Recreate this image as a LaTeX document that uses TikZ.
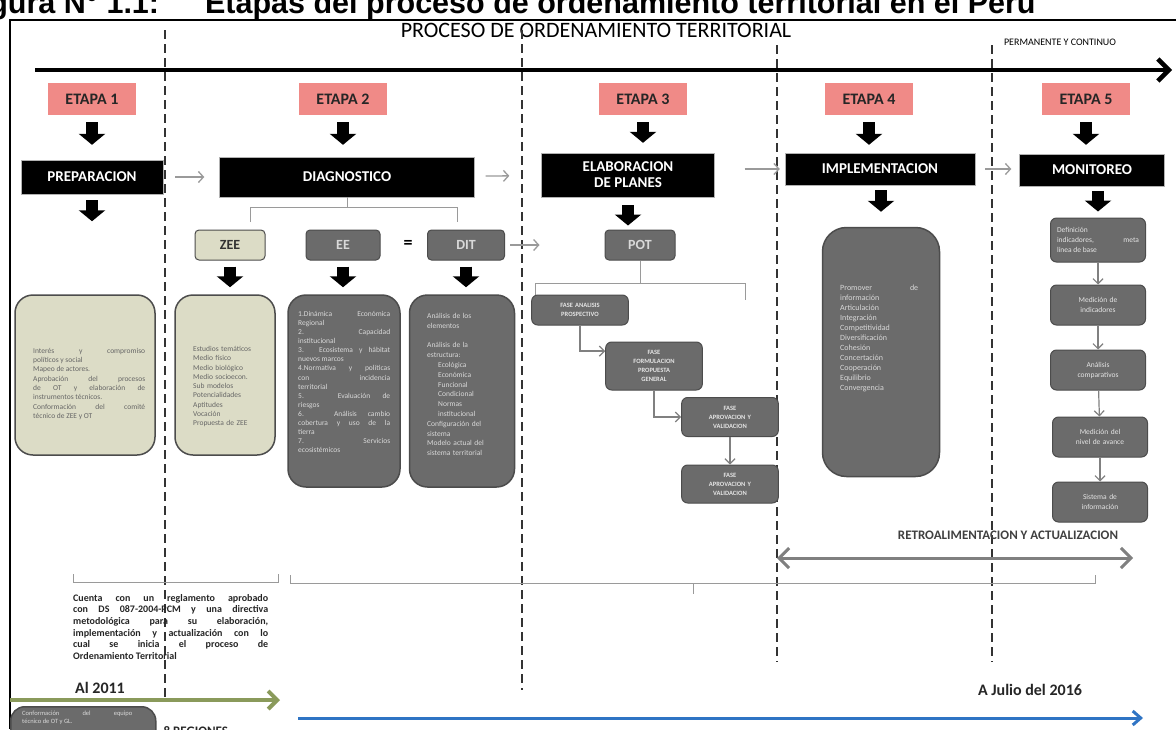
\documentclass[tikz,border=0pt]{standalone}
\usepackage{fontspec}
\setmainfont{Carlito}
\newfontfamily\captionfont{Liberation Sans}
\usepackage{tikz}
\usetikzlibrary{arrows.meta}

\definecolor{etapa_red}{HTML}{F08A87}
\definecolor{khaki}{HTML}{DCDCC6}
\definecolor{box_gray}{HTML}{6B6B6B}
\definecolor{line_gray}{HTML}{9A9A9A}
\definecolor{olive_green}{HTML}{8A9A5B}
\definecolor{blue_line}{HTML}{2F74C4}

\begin{document}
\begin{tikzpicture}[x=1pt, y=-1pt,
        etapa_style/.style={fill=etapa_red, minimum width=88pt, minimum height=32pt, inner sep=0pt, text=black!85, font=\fontsize{16}{18}\selectfont\bfseries},
        header_style/.style={fill=black, draw=gray!60, text=white, inner sep=0pt, align=center, font=\fontsize{15}{16}\selectfont\bfseries},
        small_box_style/.style={fill=box_gray, draw=black!70, line width=1pt, rounded corners=4pt, minimum width=74pt, minimum height=30pt, text=white!85!black, font=\fontsize{14}{16}\selectfont\bfseries},
        detail_style/.style={draw=black!70, line width=1.5pt, rounded corners=18pt, inner sep=0pt},
        box_text/.style={anchor=north west, inner sep=0pt, font=\fontsize{7.5}{9.3}\selectfont},
        fase_style/.style={fill=box_gray, draw=black!70, line width=1pt, rounded corners=6pt, minimum width=96pt, text width=90pt, align=center, text=white!90!black, font=\fontsize{6.5}{9}\selectfont\bfseries},
        mon_style/.style={fill=box_gray, draw=black!70, line width=1pt, rounded corners=6pt, minimum width=95pt, minimum height=40pt, text width=82pt, align=center, text=white!90!black, font=\fontsize{7.5}{10}\selectfont},
        down_arrow/.style={line width=12pt, -{Triangle[length=11pt,width=26pt]}},
        flow_arrow/.style={draw=line_gray, line width=1.3pt, -{Straight Barb[length=5pt,width=11pt]}},
        link_arrow/.style={draw=gray, line width=1.2pt, -{Straight Barb[length=5pt,width=10pt]}},
        bracket_style/.style={draw=line_gray, line width=1pt},
        stage_line/.style={draw=black!80, line width=1.5pt, dash pattern=on 9pt off 5pt},
        time_arrow/.style={line width=4.5pt, -{Straight Barb[length=11pt,width=22pt]}},
        retro_arrow/.style={draw=gray, line width=3pt, {Straight Barb[length=10pt,width=20pt]}-{Straight Barb[length=10pt,width=20pt]}}]

        \fill [white] (0,0) rectangle (1176,729);
        \useasboundingbox (0,0) rectangle (1176,729);
        \clip (0,0) rectangle (1176,729);

        \node [anchor=base west, inner sep=0pt, font=\captionfont\fontsize{30.5}{32}\selectfont\bfseries] (caption) at (-38,13) {Figura N° 1.1:\hspace{46pt}Etapas del proceso de ordenamiento territorial en el Perú};

        \draw [line width=2pt] (10,729) -- (10,20) -- (1176,20);

        \node [font=\fontsize{22}{26}\selectfont] (title) at (596,30) {PROCESO DE ORDENAMIENTO TERRITORIAL};

        \node [font=\fontsize{10}{12}\selectfont] (perm) at (1060,42) {PERMANENTE Y CONTINUO};

        \draw [stage_line] (165,30) -- (165,700);
        \draw [stage_line] (522,30) -- (522,690);
        \draw [stage_line] (777,45) -- (777,662);
        \draw [stage_line] (992,45) -- (992,662);

        \coordinate (t0) at (35,70);
        \coordinate (t1) at (1172,70);
        \draw [time_arrow] (t0) -- (t1);

        \node [etapa_style] (e1) at (92,99) {ETAPA 1};

        \node [etapa_style] (e2) at (343,99) {ETAPA 2};

        \node [etapa_style] (e3) at (643,99) {ETAPA 3};

        \node [etapa_style] (e4) at (869,99) {ETAPA 4};

        \node [etapa_style] (e5) at (1086,99) {ETAPA 5};

        \node [header_style, minimum width=142pt, minimum height=34pt] (h1) at (92,177) {PREPARACION};

        \node [header_style, minimum width=255pt, minimum height=40pt] (h2) at (347,177) {DIAGNOSTICO};

        \node [header_style, minimum width=173pt, minimum height=44pt] (h3) at (628,175) {ELABORACION\\DE PLANES};

        \node [header_style, minimum width=190pt, minimum height=32pt] (h4) at (880,169) {IMPLEMENTACION};

        \node [header_style, minimum width=145pt, minimum height=32pt] (h5) at (1092,170) {MONITOREO};

        \draw [down_arrow, shorten <=7pt, shorten >=15pt] (e1.south) -- (e1.south |- h1.north);
        \draw [down_arrow, shorten <=7pt, shorten >=12pt] (e2.south) -- (e2.south |- h2.north);
        \draw [down_arrow, shorten <=7pt, shorten >=10pt] (e3.south) -- (e3.south |- h3.north);
        \draw [down_arrow, shorten <=7pt, shorten >=8pt] (e4.south) -- (e4.south |- h4.north);
        \draw [down_arrow, shorten <=7pt, shorten >=9pt] (e5.south) -- (e5.south |- h5.north);

        \draw [flow_arrow, shorten <=12pt, shorten >=15pt] (h1) -- (h2);
        \draw [flow_arrow, shorten <=11pt, shorten >=32pt] (h2) -- (h3);
        \draw [flow_arrow, shorten <=30pt, shorten >=5pt] (h4.west -| h3.east) -- (h4.west);
        \draw [flow_arrow, shorten <=10pt, shorten >=8pt] (h4.east) -- (h4.east -| h5.west);

        \draw [bracket_style] (h2.south) -- (h2.south |- 0,207);
        \draw [bracket_style] (250,222) -- (250,207) -- (457,207) -- (457,222);

        \node [small_box_style, fill=khaki, text=black!80, minimum width=70pt] (zee) at (230,245) {ZEE};

        \node [small_box_style] (ee) at (343,245) {EE};

        \node [font=\fontsize{18}{18}\selectfont\bfseries] (eq) at (408,244) {=};

        \node [small_box_style, minimum width=77pt] (dit) at (466,245) {DIT};

        \node [small_box_style, minimum width=70pt] (pot) at (640,245) {POT};

        \draw [flow_arrow, shorten <=5pt, shorten >=65pt] (dit) -- (pot);

        \draw [bracket_style] (pot.south) -- (pot.south |- 0,283);
        \draw [bracket_style] (535,297) -- (535,283) -- (745,283) -- (745,300);

        \node [detail_style, fill=khaki, minimum width=140pt, minimum height=160pt] (b1) at (85,375) {};

        \node [detail_style, fill=khaki, minimum width=100pt, minimum height=160pt] (b2) at (225,375) {};

        \node [detail_style, fill=box_gray, minimum width=112pt, minimum height=192pt] (b3) at (344,391) {};

        \node [detail_style, fill=box_gray, minimum width=105pt, minimum height=192pt] (b4) at (462,391) {};

        \node [detail_style, fill=box_gray, rounded corners=24pt, minimum width=117pt, minimum height=249pt] (b5) at (881,352) {};

        \draw [down_arrow, shorten <=6pt, shorten >=73pt] (h1.south) -- (h1.south |- b1.north);
        \draw [down_arrow, shorten <=6pt, shorten >=7pt] (zee.south) -- (zee.south |- b2.north);
        \draw [down_arrow, shorten <=6pt, shorten >=7pt] (ee.south) -- (ee.south |- b3.north);
        \draw [down_arrow, shorten <=6pt, shorten >=7pt] (dit.south) -- (dit.south |- b4.north);
        \draw [down_arrow, shorten <=8pt, shorten >=4pt] (h3.south) -- (h3.south |- pot.north);
        \draw [down_arrow, shorten <=5pt, shorten >=15pt] (h4.south -| b5.north) -- (b5.north);

        \node [box_text, text width=112pt, align=justify, text=black!60] (tx1) at (33,348) {Interés y compromiso\linebreak políticos y social\\ Mapeo de actores.\\ Aprobación del procesos\linebreak de OT y elaboración de\linebreak instrumentos técnicos.\\ Conformación del comité\linebreak técnico de ZEE y OT};

        \node [box_text, text width=75pt, align=left, text=black!60] (tx2) at (193,346) {Estudios temáticos\\ Medio físico\\ Medio biológico\\ Medio socioecon.\\ Sub modelos\\ Potencialidades\\ Aptitudes\\ Vocación\\ Propuesta de ZEE};

        \node [box_text, text width=92pt, align=justify, text=white!85!black, font=\fontsize{7.5}{9.1}\selectfont] (tx3) at (298,311) {1.Dinámica Económica\linebreak Regional\\ 2. Capacidad\linebreak institucional\\ 3. Ecosistema y hábitat\linebreak nuevos marcos\\ 4.Normativa y políticas\linebreak con incidencia\linebreak territorial\\ 5. Evaluación de\linebreak riesgos\\ 6. Análisis cambio\linebreak cobertura y uso de la\linebreak tierra\\ 7. Servicios\linebreak ecosistémicos};

        \node [box_text, text width=80pt, align=left, text=white!85!black, font=\fontsize{7.5}{9.8}\selectfont] (tx4) at (427,313) {Análisis de los\\ elementos\\[9.8pt] Análisis de la\\ estructura:\\ \hspace*{11pt}Ecológica\\ \hspace*{11pt}Económica\\ \hspace*{11pt}Funcional\\ \hspace*{11pt}Condicional\\ \hspace*{11pt}Normas\\ \hspace*{11pt}institucional\\ Configuración del\\ sistema\\ Modelo actual del\\ sistema territorial};

        \node [box_text, text width=78pt, align=justify, text=white!85!black, font=\fontsize{8}{10}\selectfont] (tx5) at (840,285) {Promover de\linebreak información\\ Articulación\\ Integración\\ Competitividad\\ Diversificación\\ Cohesión\\ Concertación\\ Cooperación\\ Equilibrio\\ Convergencia};

        \node [fase_style, minimum height=30pt] (f1) at (580,310) {FASE ANALISIS\\PROSPECTIVO};

        \node [fase_style, minimum height=48pt] (f2) at (654,366) {FASE\\FORMULACION\\PROPUESTA\\GENERAL};

        \node [fase_style, minimum height=39pt] (f3) at (730,417) {FASE\\APROVACION Y\\VALIDACION};

        \node [fase_style, minimum height=38pt] (f4) at (730,484) {FASE\\APROVACION Y\\VALIDACION};

        \draw [link_arrow] (f1.south) |- (f2.163);
        \draw [link_arrow] (f2.south) |- (f3.west);
        \draw [link_arrow] (f3) -- (f4);

        \node [mon_style, minimum height=44pt, align=justify] (m1) at (1098,240) {Definición\\ indicadores, meta\linebreak línea de base};

        \node [mon_style] (m2) at (1098,305) {Medición de\\indicadores};

        \node [mon_style] (m3) at (1098,370) {Análisis\\comparativos};

        \node [mon_style] (m4) at (1100,437) {Medición del\\nivel de avance};

        \node [mon_style] (m5) at (1100,502) {Sistema de\\información};

        \draw [down_arrow, shorten <=5pt, shorten >=6pt] (h5.south -| m1.north) -- (m1.north);

        \draw [link_arrow] (m1) -- (m2);
        \draw [link_arrow] (m2) -- (m3);
        \draw [link_arrow] (m3) -- (m4);
        \draw [link_arrow] (m4) -- (m5);

        \node [font=\fontsize{13}{14}\selectfont\bfseries, text=black!75] (retro) at (1008,535) {RETROALIMENTACION Y ACTUALIZACION};

        \coordinate (r0) at (777,558);
        \coordinate (r1) at (1133,558);
        \draw [retro_arrow] (r0) -- (r1);

        \draw [bracket_style] (73,574) -- (73,582) -- (278,582) -- (278,574);
        \draw [bracket_style] (290,575) -- (290,583) -- (1095,583) -- (1095,575);
        \draw [bracket_style] (693,583) -- (693,594);

        \node [anchor=north west, inner sep=0pt, text width=195pt, align=justify, font=\fontsize{10}{11.6}\selectfont\bfseries, text=black!85] (note) at (73,594) {Cuenta con un reglamento aprobado\linebreak con DS 087-2004-PCM y una directiva\linebreak metodológica para su elaboración,\linebreak implementación y actualización con lo\linebreak cual se inicia el proceso de\linebreak Ordenamiento Territorial};

        \node [font=\fontsize{16}{18}\selectfont\bfseries, text=black!85] (y2011) at (100,688) {Al 2011};

        \node [font=\fontsize{16}{18}\selectfont\bfseries, text=black!85] (y2016) at (1030,690) {A Julio del 2016};

        \coordinate (g0) at (10,700);
        \coordinate (g1) at (280,700);
        \draw [draw=olive_green, line width=4pt, -{Straight Barb[length=9pt,width=18pt]}] (g0) -- (g1);

        \coordinate (u0) at (298,718);
        \coordinate (u1) at (1143,718);
        \draw [draw=blue_line, line width=3pt, -{Straight Barb[length=8pt,width=14pt]}] (u0) -- (u1);

        \node [detail_style, fill=box_gray, rounded corners=14pt, minimum width=145pt, minimum height=60pt, anchor=north west] (b6) at (10,706) {};

        \node [box_text, text width=110pt, align=justify, text=white!85!black, font=\fontsize{6.5}{8}\selectfont] (tx6) at (22,711) {Conformación del equipo\linebreak técnico de OT y GL.};

        \node [anchor=west, font=\fontsize{13}{14}\selectfont\bfseries, text=black!85] (reg) at (160,731) {8 REGIONES};

\end{tikzpicture}
\end{document}
